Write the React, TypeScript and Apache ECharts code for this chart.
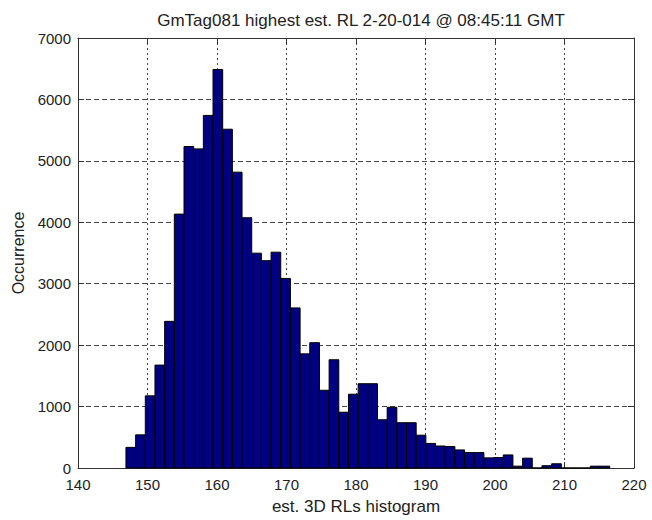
import React, { useEffect, useRef } from "react";
import * as echarts from "echarts";

// Histogram definition (bin edges: binStart + k * binWidth)
const binStart = 146.9;
const binWidth = 1.392;
const counts = [
  336, 540, 1175, 1675, 2387, 4133, 5233, 5195, 5740, 6487,
  5515, 4816, 4074, 3497, 3375, 3513, 3086, 2606, 1858, 2040,
  1265, 1762, 908, 1201, 1372, 1372, 785, 988, 737, 737,
  534, 400, 358, 350, 294, 251, 251, 165, 170, 213,
  30, 160, 0, 37, 69, 0, 0, 0, 30, 30,
];

const xTicks = [140, 150, 160, 170, 180, 190, 200, 210, 220];
const yTicks = [0, 1000, 2000, 3000, 4000, 5000, 6000, 7000];

const titleText = "GmTag081 highest est. RL 2-20-014 @ 08:45:11 GMT";
const xName = "est. 3D RLs histogram";
const yName = "Occurrence";

export default function App() {
  const ref = useRef<HTMLDivElement>(null);
  useEffect(() => {
    if (!ref.current) return;
    const chart = echarts.init(ref.current, undefined, { renderer: "svg" });
    const data = counts.map((c, i) => [
      binStart + i * binWidth,
      binStart + (i + 1) * binWidth,
      c,
    ]);
    const font = "'Liberation Sans', Arial, sans-serif";
    const txt = "#222";
    const frame = "#333";
    const xMin = xTicks[0];
    const xMax = xTicks[xTicks.length - 1];
    const yMin = yTicks[0];
    const yMax = yTicks[yTicks.length - 1];
    const xInt = xTicks[1] - xTicks[0];
    const yInt = yTicks[1] - yTicks[0];
    const plain = (v: number) => String(v);
    chart.setOption({
      animation: false,
      backgroundColor: "#fff",
      title: {
        text: titleText,
        left: 356,
        textAlign: "center",
        top: 7,
        textStyle: { fontFamily: font, fontSize: 17, fontWeight: "normal", color: txt },
      },
      grid: { left: 78, right: 18, top: 38, bottom: 45, containLabel: false },
      xAxis: [
        {
          type: "value",
          min: xMin,
          max: xMax,
          interval: xInt,
          name: xName,
          nameLocation: "middle",
          nameGap: 30,
          nameTextStyle: { fontFamily: font, fontSize: 17, color: txt },
          axisLine: { show: true, lineStyle: { color: frame, width: 1 } },
          axisTick: { show: true, inside: true, length: 6, lineStyle: { color: frame } },
          axisLabel: { fontFamily: font, fontSize: 15, color: txt, margin: 9, formatter: plain },
          splitLine: { show: true, lineStyle: { color: "#444", type: [2, 3], width: 1 } },
        },
        {
          type: "value",
          position: "top",
          min: xMin,
          max: xMax,
          interval: xInt,
          axisLine: { show: true, onZero: false, lineStyle: { color: frame, width: 1 } },
          axisTick: { show: true, inside: true, length: 6, lineStyle: { color: frame } },
          axisLabel: { show: false },
          splitLine: { show: false },
        },
      ],
      yAxis: [
        {
          type: "value",
          min: yMin,
          max: yMax,
          interval: yInt,
          name: yName,
          nameLocation: "middle",
          nameGap: 51,
          nameTextStyle: { fontFamily: font, fontSize: 16, color: txt },
          axisLine: { show: true, lineStyle: { color: frame, width: 1 } },
          axisTick: { show: true, inside: true, length: 6, lineStyle: { color: frame } },
          axisLabel: { fontFamily: font, fontSize: 15, color: txt, margin: 7, formatter: plain },
          splitLine: { show: true, lineStyle: { color: "#444", type: [5, 3], width: 1 } },
        },
        {
          type: "value",
          position: "right",
          min: yMin,
          max: yMax,
          interval: yInt,
          axisLine: { show: true, onZero: false, lineStyle: { color: frame, width: 1 } },
          axisTick: { show: true, inside: true, length: 6, lineStyle: { color: frame } },
          axisLabel: { show: false },
          splitLine: { show: false },
        },
      ],
      series: [
        {
          type: "custom",
          xAxisIndex: 0,
          yAxisIndex: 0,
          data,
          encode: { x: [0, 1], y: 2 },
          renderItem: (params: any, api: any) => {
            const x0 = api.value(0);
            const x1 = api.value(1);
            const y = api.value(2);
            const p0 = api.coord([x0, y]);
            const p1 = api.coord([x1, 0]);
            return {
              type: "rect",
              shape: { x: p0[0], y: p0[1], width: p1[0] - p0[0], height: p1[1] - p0[1] },
              style: { fill: "#000080", stroke: "#000", lineWidth: 1 },
            };
          },
        },
      ],
    });
    return () => chart.dispose();
  }, []);
  return (
    <div
      ref={ref}
      style={{ position: "fixed", left: 0, top: 0, width: 652, height: 520, background: "#fff" }}
    />
  );
}
